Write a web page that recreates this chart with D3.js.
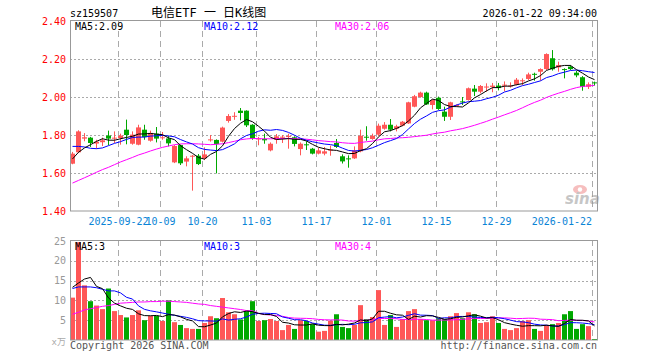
<!DOCTYPE html>
<html><head><meta charset="utf-8">
<script src="https://cdn.jsdelivr.net/npm/d3@7"></script>
<style>body{margin:0;background:#fff}svg{display:block}</style>
</head><body>
<svg id="c" width="660" height="360"></svg>
<script>
const dates = ["2025-09-10","2025-09-11","2025-09-12","2025-09-15","2025-09-16","2025-09-17","2025-09-18","2025-09-19","2025-09-22","2025-09-23",
"2025-09-24","2025-09-25","2025-09-26","2025-09-29","2025-09-30","2025-10-09","2025-10-10","2025-10-13","2025-10-14","2025-10-15",
"2025-10-16","2025-10-17","2025-10-20","2025-10-21","2025-10-22","2025-10-23","2025-10-24","2025-10-27","2025-10-28","2025-10-29",
"2025-10-30","2025-11-03","2025-11-04","2025-11-05","2025-11-06","2025-11-07","2025-11-10","2025-11-11","2025-11-12","2025-11-13",
"2025-11-14","2025-11-17","2025-11-18","2025-11-19","2025-11-20","2025-11-21","2025-11-24","2025-11-25","2025-11-26","2025-11-27",
"2025-11-28","2025-12-01","2025-12-02","2025-12-03","2025-12-04","2025-12-05","2025-12-08","2025-12-09","2025-12-10","2025-12-11",
"2025-12-12","2025-12-15","2025-12-16","2025-12-17","2025-12-18","2025-12-19","2025-12-22","2025-12-23","2025-12-24","2025-12-25",
"2025-12-26","2025-12-29","2025-12-30","2025-12-31","2026-01-05","2026-01-06","2026-01-07","2026-01-08","2026-01-09","2026-01-12",
"2026-01-13","2026-01-14","2026-01-15","2026-01-16","2026-01-19","2026-01-20","2026-01-21","2026-01-22"];

const open = [1.649,1.709,1.781,1.786,1.755,1.762,1.797,1.782,1.784,1.828,
1.754,1.749,1.828,1.770,1.807,1.786,1.782,1.656,1.747,1.660,
1.688,1.691,1.677,1.775,1.774,1.765,1.874,1.898,1.928,1.928,
1.854,1.779,1.779,1.719,1.775,1.788,1.791,1.788,1.726,1.751,
1.728,1.702,1.702,1.719,1.758,1.688,1.677,1.677,1.714,1.791,
1.779,1.802,1.833,1.854,1.833,1.849,1.861,1.949,2.000,2.023,
1.958,1.996,1.923,1.896,1.953,1.977,1.984,2.044,2.028,2.053,
2.053,2.060,2.063,2.058,2.065,2.084,2.095,2.122,2.133,2.147,
2.204,2.156,2.147,2.160,2.128,2.104,2.054,2.077];
const high = [1.711,1.825,1.810,1.790,1.775,1.786,1.823,1.819,1.807,1.881,
1.819,1.854,1.854,1.823,1.842,1.816,1.796,1.747,1.750,1.688,
1.695,1.700,1.735,1.800,1.777,1.844,1.910,1.920,1.942,1.930,
1.857,1.790,1.807,1.761,1.805,1.800,1.807,1.793,1.761,1.767,
1.732,1.732,1.737,1.744,1.779,1.698,1.693,1.740,1.828,1.846,
1.807,1.860,1.868,1.884,1.854,1.874,1.975,2.011,2.028,2.028,
1.988,2.002,1.949,1.975,1.961,2.000,2.050,2.063,2.063,2.072,
2.074,2.074,2.082,2.077,2.100,2.098,2.128,2.128,2.151,2.230,
2.247,2.186,2.151,2.168,2.137,2.110,2.077,2.081];
const low = [1.646,1.705,1.767,1.737,1.728,1.742,1.746,1.758,1.749,1.751,
1.749,1.746,1.775,1.765,1.761,1.775,1.740,1.652,1.642,1.635,
1.507,1.642,1.668,1.765,1.598,1.761,1.865,1.880,1.877,1.842,
1.775,1.746,1.754,1.714,1.754,1.758,1.728,1.740,1.693,1.721,
1.698,1.698,1.693,1.691,1.732,1.650,1.628,1.674,1.709,1.770,
1.775,1.793,1.828,1.819,1.819,1.846,1.858,1.946,1.996,1.958,
1.935,1.932,1.874,1.879,1.949,1.958,1.981,2.005,2.019,2.028,
2.025,2.035,2.030,2.049,2.061,2.063,2.089,2.086,2.086,2.142,
2.139,2.133,2.098,2.142,2.104,2.033,2.042,2.060];
const close = [1.702,1.819,1.788,1.758,1.765,1.772,1.781,1.786,1.797,1.800,
1.802,1.840,1.789,1.811,1.781,1.788,1.756,1.742,1.651,1.677,
1.691,1.647,1.698,1.777,1.753,1.839,1.900,1.901,1.916,1.851,
1.781,1.782,1.772,1.754,1.793,1.791,1.795,1.753,1.754,1.749,
1.702,1.719,1.714,1.723,1.737,1.661,1.675,1.719,1.796,1.789,
1.796,1.849,1.854,1.828,1.846,1.870,1.972,2.004,2.023,1.961,
1.984,1.937,1.896,1.972,1.958,1.974,2.046,2.028,2.058,2.055,
2.060,2.047,2.065,2.060,2.091,2.088,2.119,2.119,2.147,2.226,
2.146,2.168,2.144,2.147,2.114,2.054,2.067,2.075];
// volume, unit: 万
const volume = [10.7,24.7,13.8,9.8,8.7,7.8,13.0,7.3,6.3,5.7,
6.3,7.5,5.0,6.1,6.1,4.8,10.0,4.5,3.8,3.0,
2.8,2.8,4.3,6.0,5.5,10.6,7.0,6.5,5.2,7.3,
9.8,4.8,5.0,5.3,4.8,2.5,3.8,2.8,5.0,4.8,
4.0,2.1,2.3,4.9,6.5,3.3,3.0,3.8,8.8,5.3,
5.8,12.6,3.8,6.3,3.3,5.3,7.3,7.8,5.3,5.0,
5.0,5.5,5.3,6.0,6.8,5.5,7.0,6.5,4.3,4.5,
6.0,4.3,2.8,2.5,3.0,4.8,5.0,2.8,2.3,3.8,
4.0,4.3,6.5,7.3,2.8,4.0,3.5,0.25];

// moving-average values before a full window is available
const priceMa5Head = [1.674,1.709,1.732,1.749];
const priceMa10Head = [1.740,1.740,1.737,1.730,1.728,1.732,1.744,1.756,1.765];
const priceMa30Head = [1.547,1.561,1.575,1.589,1.604,1.618,1.630,1.644,1.658,1.670,
1.682,1.695,1.705,1.716,1.726,1.735,1.742,1.749,1.753,1.754,
1.754,1.753,1.751,1.749,1.751,1.754,1.760,1.767,1.775];
const volMa5Head = [13.3,14.4,15.4,15.8];
const volMa10Head = [13.0,13.4,13.4,13.4,13.2,12.8,12.4,12.4,11.9];
const volMa30Head = [6.5,7.0,7.6,7.9,8.2,8.5,8.7,9.0,9.3,9.4,
9.5,9.6,9.6,9.7,9.7,9.8,9.8,9.7,9.6,9.5,
9.3,9.1,9.0,8.7,8.5,8.3,8.1,7.9,7.7];

const priceTicks = [1.40,1.60,1.80,2.00,2.20,2.40];
const volTicks = [5,10,15,20,25];
const tickDates = ["2025-09-22","2025-10-09","2025-10-20","2025-11-03","2025-11-17","2025-12-01","2025-12-15","2025-12-29","2026-01-22"];
const tickLabels = ["2025-09-22","10-09","10-20","11-03","11-17","12-01","12-15","12-29","2026-01-22"];
const code = "sz159507";
const title = "电信ETF 一 日K线图";
const stamp = "2026-01-22 09:34:00";

const UP = "#ff5757", DOWN = "#00a800";
const MONO = "'DejaVu Sans Mono', monospace";
const TITLEFONT = "'DejaVu Sans Mono','Noto Sans CJK SC',monospace";

function ma(arr, n, head) {
  return arr.map((_, i) => i < n - 1 ? head[i] : d3.mean(arr.slice(i - n + 1, i + 1)));
}
const trunc = (v, d) => (Math.floor(v * Math.pow(10, d) + 1e-7) / Math.pow(10, d)).toFixed(d);

const svg = d3.select("#c");
const L = 70, R = 597, PT = 21, PB = 211, VT = 241, VB = 340;

const x = d3.scaleBand().domain(dates).range([69.5, 597.5]).paddingInner(1/6).paddingOuter(1/12);
const y = d3.scaleLinear().domain([1.40, 2.40]).range([PB, PT]);
const yv = d3.scaleLinear().domain([0, 25]).range([VB, VT]);

const data = dates.map((d, i) => ({d, o: open[i], h: high[i], l: low[i], c: close[i], v: volume[i]}));
const col = d => d.c >= d.o ? UP : DOWN;

// ---- grid
const g = svg.append("g");
// horizontal dotted (price)
g.selectAll(".hp").data(priceTicks.slice(1, -1)).join("line")
  .attr("x1", L).attr("x2", R).attr("y1", d => Math.round(y(d)) + 0.5).attr("y2", d => Math.round(y(d)) + 0.5)
  .attr("stroke", "#aaa").attr("stroke-dasharray", "2,2");
g.selectAll(".hv").data(volTicks.slice(0, -1)).join("line")
  .attr("x1", L).attr("x2", R).attr("y1", d => Math.round(yv(d)) + 0.5).attr("y2", d => Math.round(yv(d)) + 0.5)
  .attr("stroke", "#aaa").attr("stroke-dasharray", "2,2");
// vertical dashed
tickDates.forEach(td => {
  const xx = Math.round(x(td)) + 0.5;
  g.append("line").attr("x1", xx).attr("x2", xx).attr("y1", PT).attr("y2", PB)
    .attr("stroke", "#aaa").attr("stroke-dasharray", "6,4");
  g.append("line").attr("x1", xx).attr("x2", xx).attr("y1", VT - 1).attr("y2", VB)
    .attr("stroke", "#aaa").attr("stroke-dasharray", "6,4");
});

// ---- candles
const cg = svg.append("g");
cg.selectAll("line.w").data(data).join("line")
  .attr("x1", d => x(d.d) + 2.5).attr("x2", d => x(d.d) + 2.5)
  .attr("y1", d => y(d.h)).attr("y2", d => y(d.l))
  .attr("stroke", col).attr("stroke-width", 1);
cg.selectAll("rect.b").data(data).join("rect")
  .attr("x", d => x(d.d)).attr("width", x.bandwidth())
  .attr("y", d => y(Math.max(d.o, d.c)))
  .attr("height", d => Math.max(1, y(Math.min(d.o, d.c)) - y(Math.max(d.o, d.c))))
  .attr("fill", col);

// ---- volume bars
svg.append("g").selectAll("rect").data(data).join("rect")
  .attr("x", d => x(d.d)).attr("width", x.bandwidth())
  .attr("y", d => yv(d.v)).attr("height", d => VB - yv(d.v))
  .attr("fill", col);

// ---- MA lines
const pm5 = ma(close, 5, priceMa5Head), pm10 = ma(close, 10, priceMa10Head), pm30 = ma(close, 30, priceMa30Head);
const vm5 = ma(volume, 5, volMa5Head), vm10 = ma(volume, 10, volMa10Head), vm30 = ma(volume, 30, volMa30Head);
const cx = i => x(dates[i]) + 2.5;
const lineP = d3.line().x((v, i) => cx(i)).y(v => y(v));
const lineV = d3.line().x((v, i) => cx(i)).y(v => yv(v));
[[pm30, "#ff00ff"], [pm10, "#0000ff"], [pm5, "#000000"]].forEach(([s, c]) =>
  svg.append("path").attr("d", lineP(s)).attr("fill", "none").attr("stroke", c).attr("stroke-width", 1));
[[vm30, "#ff00ff"], [vm10, "#0000ff"], [vm5, "#000000"]].forEach(([s, c]) =>
  svg.append("path").attr("d", lineV(s)).attr("fill", "none").attr("stroke", c).attr("stroke-width", 1));

// ---- borders
const bc = "#999";
svg.append("rect").attr("x", L + 0.5).attr("y", PT - 0.5).attr("width", R - L).attr("height", PB - PT + 0.5)
  .attr("fill", "none").attr("stroke", bc);
svg.append("rect").attr("x", L + 0.5).attr("y", VT - 0.5).attr("width", R - L).attr("height", VB - VT + 0.5)
  .attr("fill", "none").attr("stroke", bc);

// ---- sina watermark
const wm = svg.append("g").attr("opacity", 0.55);
wm.append("ellipse").attr("cx", 580).attr("cy", 189.5).attr("rx", 7).attr("ry", 4.5).attr("fill", "#f08a8a");
wm.append("circle").attr("cx", 580).attr("cy", 189.5).attr("r", 2.2).attr("fill", "#fff");
wm.append("text").attr("x", 565).attr("y", 204).attr("font-family", "'DejaVu Sans',sans-serif")
  .attr("font-size", 15).attr("font-weight", "bold").attr("font-style", "italic").attr("fill", "#999").text("sina");

// ---- axis labels
const t = svg.append("g").attr("font-family", MONO).attr("font-size", 10);
t.selectAll(".py").data(priceTicks).join("text")
  .attr("x", 66).attr("y", d => y(d) + 3.5).attr("text-anchor", "end").attr("fill", "#ff0000")
  .text(d => d.toFixed(2));
t.selectAll(".vy").data(volTicks).join("text")
  .attr("x", 66).attr("y", d => yv(d) + 3.5).attr("text-anchor", "end").attr("fill", "#999")
  .text(d => d);
t.append("text").attr("x", 66).attr("y", 345).attr("text-anchor", "end").attr("fill", "#aaa")
  .attr("font-family", TITLEFONT).attr("font-size", 9).text("x万");
t.selectAll(".dx").data(tickDates).join("text")
  .attr("x", (d, i) => i === tickDates.length - 1 ? Math.round(x(d)) : Math.round(x(d)) + 0.5)
  .attr("y", 225).attr("text-anchor", (d, i) => i === tickDates.length - 1 ? "end" : "middle")
  .attr("fill", "#0a84d6").text((d, i) => tickLabels[i]);

// ---- header
t.append("text").attr("x", 70).attr("y", 16.5).attr("fill", "#000").text(code);
svg.append("text").attr("x", 151).attr("y", 16.5).attr("font-family", TITLEFONT).attr("font-size", 12)
  .attr("fill", "#000").text(title);
t.append("text").attr("x", 597).attr("y", 16.5).attr("text-anchor", "end").attr("fill", "#000").text(stamp);

// ---- MA legends
const last = dates.length - 1;
t.append("text").attr("x", 75).attr("y", 29.5).attr("fill", "#000").text("MA5:" + trunc(pm5[last], 2));
t.append("text").attr("x", 204).attr("y", 29.5).attr("fill", "#0000ff").text("MA10:" + trunc(pm10[last], 2));
t.append("text").attr("x", 335).attr("y", 29.5).attr("fill", "#ff00ff").text("MA30:" + trunc(pm30[last], 2));
t.append("text").attr("x", 75).attr("y", 249.5).attr("fill", "#000").text("MA5:" + trunc(vm5[last], 0));
t.append("text").attr("x", 204).attr("y", 249.5).attr("fill", "#0000ff").text("MA10:" + trunc(vm10[last], 0));
t.append("text").attr("x", 335).attr("y", 249.5).attr("fill", "#ff00ff").text("MA30:" + trunc(vm30[last], 0));

// ---- footer
t.append("text").attr("x", 70).attr("y", 349).attr("fill", "#555").text("Copyright 2026 SINA.COM");
t.append("text").attr("x", 597).attr("y", 349).attr("text-anchor", "end").attr("fill", "#555").text("http://finance.sina.com.cn");
</script>
</body></html>
